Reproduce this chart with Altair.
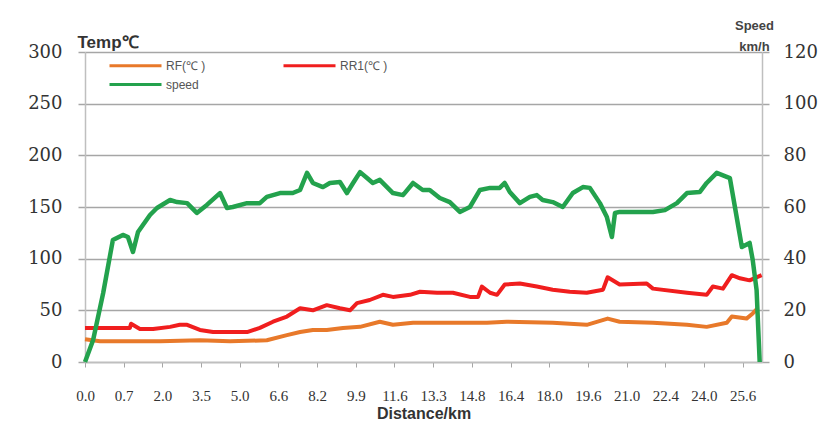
import json
import altair as alt
import pandas as pd

# Category tick labels (distance, km) shown at equally spaced positions
x_labels = ["0.0", "0.7", "2.0", "3.5", "5.0", "6.6", "8.2", "9.9", "11.6", "13.3",
            "14.8", "16.4", "18.0", "19.6", "21.0", "22.4", "24.0", "25.6"]

series_names = ["RF(℃ )", "RR1(℃ )", "speed"]
series_colors = ["#E8792A", "#F01E1E", "#23A24D"]

# RF temperature (°C) — position in tick-label units
rf_pos = [0, 0.39, 1.94, 2.97, 3.75, 4.70, 5.22, 5.56, 5.89, 6.25, 6.67, 7.11, 7.62, 7.96,
          8.48, 9.17, 10.39, 10.90, 12.09, 12.97, 13.51, 13.82, 14.68, 15.56, 16.07, 16.59,
          16.72, 17.10, 17.26, 17.39]
rf_val = [22, 20, 20, 21, 20, 21, 26, 29, 31, 31, 33, 34, 39, 36,
          38, 38, 38, 39, 38, 36, 42, 39, 38, 36, 34, 38,
          44, 42, 47, 52]

# RR1 temperature (°C)
rr_pos = [0, 1.16, 1.19, 1.42, 1.76, 2.20, 2.45, 2.64, 2.97, 3.31, 4.19, 4.52, 4.86, 5.22,
          5.56, 5.89, 6.25, 6.59, 6.85, 7.03, 7.36, 7.70, 7.96, 8.40, 8.66, 9.10, 9.51, 9.95,
          10.16, 10.26, 10.47, 10.65, 10.85, 11.24, 11.68, 12.09, 12.53, 12.97, 13.39, 13.51,
          13.82, 14.52, 14.68, 15.56, 16.07, 16.23, 16.49, 16.72, 16.93, 17.18, 17.49]
rr_val = [33, 33, 37, 32, 32, 34, 36, 36, 31, 29, 29, 33, 39, 44,
          52, 50, 55, 52, 50, 57, 60, 65, 63, 65, 68, 67, 67, 63,
          63, 73, 67, 65, 75, 76, 73, 70, 68, 67, 70, 82,
          75, 76, 71, 67, 65, 73, 71, 84, 81, 79, 84]

# Speed (km/h)
sp_pos = [0, 0.21, 0.47, 0.72, 0.98, 1.11, 1.24, 1.37, 1.68, 1.86, 2.20, 2.38, 2.64, 2.89,
          3.15, 3.49, 3.67, 3.82, 4.19, 4.52, 4.70, 5.04, 5.37, 5.56, 5.74, 5.89, 6.15, 6.33,
          6.59, 6.77, 6.93, 7.11, 7.29, 7.44, 7.62, 7.96, 8.22, 8.48, 8.73, 8.91, 9.17, 9.43,
          9.69, 9.95, 10.21, 10.47, 10.72, 10.85, 10.98, 11.24, 11.50, 11.68, 11.83, 12.09,
          12.35, 12.61, 12.87, 13.05, 13.31, 13.49, 13.62, 13.70, 13.82, 14.68, 14.99, 15.30,
          15.56, 15.89, 16.07, 16.33, 16.67, 16.80, 16.98, 17.18, 17.26, 17.36, 17.44]
sp_val = [0, 8.5, 26.7, 47.2, 49.2, 48.4, 42.6, 50.3, 56.9, 59.6, 62.7, 61.9, 61.5, 57.7,
          60.8, 65.4, 59.6, 60.0, 61.5, 61.5, 63.9, 65.4, 65.4, 66.6, 73.2, 69.3, 67.7, 69.3,
          69.7, 65.4, 69.3, 73.5, 71.2, 69.3, 70.5, 65.4, 64.6, 69.3, 66.6, 66.6, 63.5, 61.9,
          58.1, 60.0, 66.6, 67.4, 67.4, 69.3, 65.8, 61.5, 63.9, 64.6, 62.7, 61.9,
          60.0, 65.4, 67.7, 67.4, 61.5, 56.1, 48.4, 57.7, 58.1, 58.1, 58.8, 61.5,
          65.4, 65.8, 69.3, 73.2, 71.2, 60.0, 44.5, 46.1, 39.5, 27.9, 0]

temp_df = pd.DataFrame({
    "pos": rf_pos + rr_pos,
    "value": rf_val + rr_val,
    "series": [series_names[0]] * len(rf_pos) + [series_names[1]] * len(rr_pos),
})
speed_df = pd.DataFrame({"pos": sp_pos, "value": sp_val, "series": series_names[2]})

grid_col = "#A6A6A6"
axis_col = "#BFBFBF"

x_enc = alt.X(
    "pos:Q",
    scale=alt.Scale(domain=[0, 17.5], nice=False, zero=False),
    axis=alt.Axis(
        values=list(range(len(x_labels))),
        labelExpr=json.dumps(x_labels) + "[datum.value]",
        title="Distance/km",
        grid=False,
        domainColor=axis_col,
        domainWidth=1.5,
        tickColor=grid_col,
        tickSize=5,
        labelFont="Liberation Serif",
        labelFontSize=15,
        labelColor="#333333",
        labelPadding=21,
        labelFlush=False,
        titleFont="Liberation Sans",
        titleFontSize=16,
        titleFontWeight="bold",
        titleColor="#333333",
        titlePadding=2,
    ),
)

legend = alt.Legend(
    title=None,
    orient="none",
    direction="horizontal",
    legendX=44,
    legendY=7,
    columns=2,
    gridAlign="all",
    columnPadding=63,
    rowPadding=6,
    symbolType="M-5.2,0L5.2,0",
    symbolSize=100,
    symbolStrokeWidth=3,
    labelOffset=24,
    labelFont="Liberation Sans",
    labelFontSize=12,
    labelColor="#555555",
)

color_enc = alt.Color(
    "series:N",
    scale=alt.Scale(domain=series_names, range=series_colors),
    legend=legend,
)

temp_layer = alt.Chart(temp_df).mark_line(strokeWidth=4, strokeJoin="round").encode(
    x=x_enc,
    y=alt.Y(
        "value:Q",
        scale=alt.Scale(domain=[0, 300], nice=False),
        axis=alt.Axis(
            values=[0, 50, 100, 150, 200, 250, 300],
            grid=True,
            gridColor=grid_col,
            gridWidth=1.5,
            domainColor=axis_col,
            domainWidth=1.5,
            tickColor=grid_col,
            tickWidth=1.5,
            tickSize=7,
            labelFont="DejaVu Serif",
            labelFontSize=18,
            labelColor="#333333",
            labelPadding=16,
            labelFlush=False,
            title="Temp℃",
            titleAngle=0,
            titleAlign="left",
            titleBaseline="bottom",
            titleX=-8,
            titleY=-1,
            titleFont="Liberation Sans",
            titleFontSize=17,
            titleFontWeight="bold",
            titleColor="#333333",
        ),
    ),
    color=color_enc,
)

speed_layer = alt.Chart(speed_df).mark_line(strokeWidth=4.5, strokeJoin="round").encode(
    x=x_enc,
    y=alt.Y(
        "value:Q",
        scale=alt.Scale(domain=[0, 120], nice=False),
        axis=alt.Axis(
            orient="right",
            values=[0, 20, 40, 60, 80, 100, 120],
            grid=False,
            domainColor=axis_col,
            domainWidth=1.5,
            tickColor=grid_col,
            tickWidth=1.5,
            tickSize=7,
            labelFont="DejaVu Serif",
            labelFontSize=18,
            labelColor="#333333",
            labelPadding=14,
            labelFlush=False,
            title=["Speed", "km/h"],
            titleAngle=0,
            titleAlign="center",
            titleBaseline="alphabetic",
            titleX=-8,
            titleY=-23,
            titleLineHeight=21,
            titleFont="Liberation Sans",
            titleFontSize=13,
            titleFontWeight="bold",
            titleColor="#444444",
        ),
    ),
    color=color_enc,
)

chart = (
    alt.layer(temp_layer, speed_layer)
    .resolve_scale(y="independent")
    .properties(
        width=677,
        height=310,
        autosize=alt.AutoSizeParams(type="none"),
        padding={"left": 77, "top": 44, "right": 57, "bottom": 60},
        background="white",
    )
    .configure_view(strokeWidth=0)
)

chart.save("out.html", embed_options={"renderer": "svg", "actions": False})
